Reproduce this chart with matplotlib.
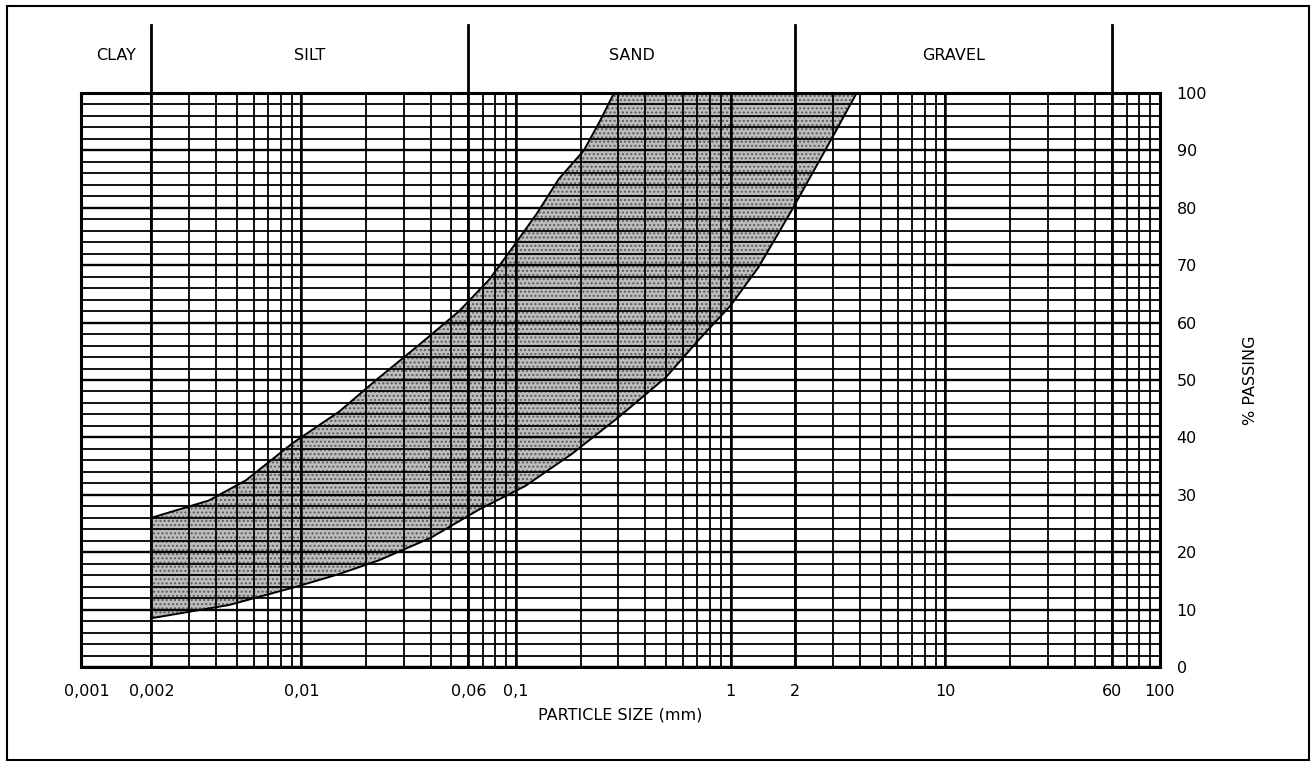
import matplotlib
matplotlib.use("Agg")
import numpy as np
import matplotlib.pyplot as plt
from matplotlib.patches import Rectangle
from matplotlib.ticker import FixedLocator, NullLocator

# grading envelope (particle size in mm, % passing)
upper_size = [0.002, 0.0037, 0.0055, 0.0091, 0.015, 0.0223, 0.035, 0.0543,
              0.075, 0.096, 0.125, 0.158, 0.207, 0.245, 0.286]
upper_pass = [26, 29, 32.5, 39, 44.5, 50, 56, 62, 67.5, 73, 79, 85, 90, 95, 100]

lower_size = [0.002, 0.0046, 0.0095, 0.015, 0.023, 0.04, 0.067, 0.11, 0.18,
              0.3, 0.5, 0.71, 1.0, 1.35, 1.92, 2.57, 2.95, 3.86]
lower_pass = [8.5, 10.8, 14, 16.2, 18.6, 22.5, 27.4, 31.5, 37, 43.5, 50.5,
              57, 63, 69.7, 79.5, 88, 92, 100]

# soil classes
class_names = ["CLAY", "SILT", "SAND", "GRAVEL"]
class_bounds = [0.00094, 0.002, 0.06, 2, 60]

x_ticks = [0.001, 0.002, 0.01, 0.06, 0.1, 1, 2, 10, 60, 100]
x_ticklabels = ["0,001", "0,002", "0,01", "0,06", "0,1", "1", "2", "10", "60", "100"]
y_ticks = list(range(0, 101, 10))

plt.rcParams["font.family"] = ["DejaVu Sans"]
plt.rcParams["hatch.linewidth"] = 1.0

fig = plt.figure(figsize=(13.16, 7.69), dpi=100)
ax = fig.add_axes([81 / 1316, 1 - 667 / 769, (1160 - 81) / 1316, (667 - 93) / 769])

ax.set_xscale("log")
ax.set_xlim(0.00094, 100)
ax.set_ylim(0, 100)

# band between the two curves
band_x = np.array(upper_size + lower_size[::-1])
band_y = np.array(upper_pass + lower_pass[::-1])
ax.fill(band_x, band_y, facecolor="#bdbdbd", edgecolor="#5a5a5a", lw=0,
        hatch="....", zorder=1)
ax.plot(upper_size, upper_pass, color="black", lw=1.4, zorder=3)
ax.plot(lower_size, lower_pass, color="black", lw=1.4, zorder=3)

# log grid (vertical lines from 0.002 up, the frame stands for 0.001)
grid_x = [m * 10.0 ** e for e in range(-3, 2) for m in range(1, 10)][1:]
ax.vlines(grid_x, 0, 100, color="black", lw=1.3, zorder=2)
decades = [0.01, 0.1, 1, 10]
ax.vlines(decades, 0, 100, color="black", lw=1.8, zorder=2)
ax.hlines(range(0, 101, 2), 0.00094, 100, color="black", lw=1.3, zorder=2)
ax.hlines(y_ticks, 0.00094, 100, color="black", lw=1.7, zorder=2)

ax.xaxis.set_major_locator(FixedLocator(x_ticks))
ax.set_xticklabels(x_ticklabels, fontsize=11.5)
ax.xaxis.set_minor_locator(NullLocator())
ax.yaxis.set_major_locator(FixedLocator(y_ticks))
ax.tick_params(which="both", length=0)
ax.tick_params(axis="x", pad=12)
ax.yaxis.tick_right()
ax.tick_params(axis="y", pad=12, labelsize=11.5)
ax.yaxis.set_label_position("right")
ax.set_ylabel("% PASSING", fontsize=11.5, labelpad=26)
ax.set_xlabel("PARTICLE SIZE (mm)", fontsize=11.5, labelpad=6)
for s in ax.spines.values():
    s.set_linewidth(2.2)

# class boundaries and header
trans = ax.get_xaxis_transform()
for b in class_bounds[1:]:
    ax.axvline(b, color="black", lw=2.0, zorder=3)
    ax.plot([b, b], [1, 1.118], color="black", lw=2.0, transform=trans,
            clip_on=False)
for name, lo, hi in zip(class_names, class_bounds[:-1], class_bounds[1:]):
    ax.text(np.sqrt(lo * hi), 1.066, name, transform=trans, ha="center",
            va="center", fontsize=11.5)

# outer frame
fig.patches.append(Rectangle((7 / 1316, 1 - 760 / 769), 1302 / 1316, 754 / 769,
                             transform=fig.transFigure, fill=False,
                             edgecolor="black", lw=1.5))

fig.savefig("out.png", dpi=100)
